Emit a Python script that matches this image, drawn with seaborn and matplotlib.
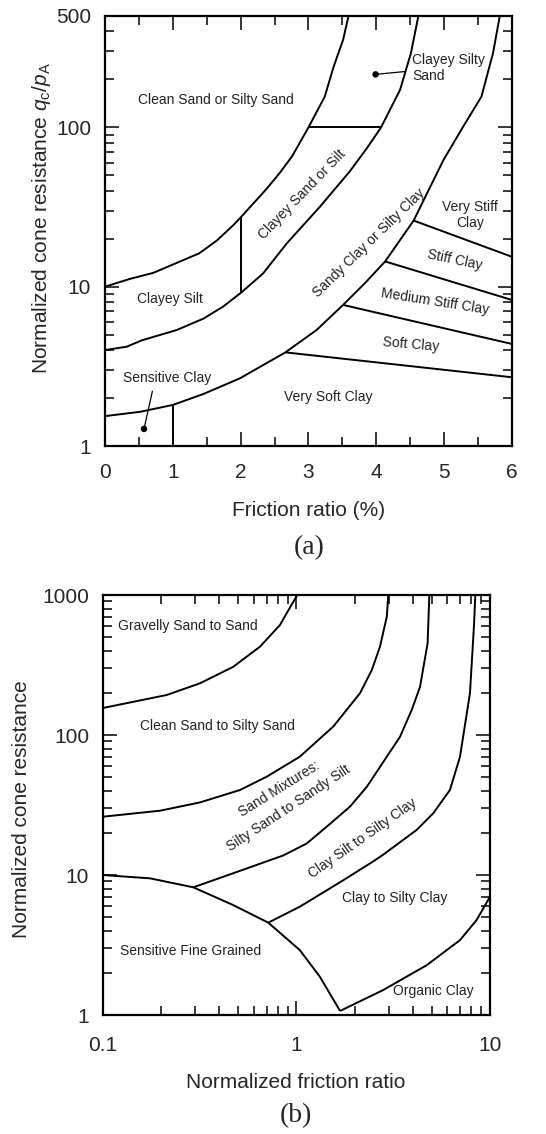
import numpy as np
import pandas as pd
import matplotlib
matplotlib.use("Agg")
import matplotlib.pyplot as plt
from matplotlib.ticker import MultipleLocator, LogLocator, NullFormatter, FixedLocator, FixedFormatter
import seaborn as sns

# ---------------- data: panel (a) ----------------
a_c1_x = [0, 0.37, 0.71, 1.39, 1.65, 1.89, 2.01, 2.19, 2.38, 2.58, 2.76, 3.0, 3.24, 3.37, 3.51, 3.59]
a_c1_y = [10, 11.2, 12.2, 16.2, 19.5, 24.3, 27.5, 33.4, 41, 52, 66, 100, 156, 240, 354, 500]
a_c2_x = [0, 0.32, 0.54, 1.06, 1.45, 1.74, 2.01, 2.33, 2.68, 3.17, 3.61, 3.86, 4.07, 4.35, 4.51, 4.62]
a_c2_y = [4.0, 4.2, 4.6, 5.35, 6.3, 7.49, 9.2, 12.1, 18.7, 31.8, 53, 73.9, 100, 172, 292, 500]
a_c3_x = [0, 0.52, 1.0, 1.45, 1.99, 2.66, 3.12, 3.51, 3.83, 4.13, 4.55, 4.99, 5.28, 5.55, 5.72, 5.82]
a_c3_y = [1.54, 1.64, 1.81, 2.12, 2.66, 3.87, 5.35, 7.68, 10.5, 14.4, 26, 62.4, 101, 156, 292, 500]
a_verystiff_x, a_verystiff_y = [4.55, 6.0], [26, 15.4]
a_stiff_x, a_stiff_y = [4.13, 6.0], [14.4, 8.25]
a_medium_x, a_medium_y = [3.51, 6.0], [7.68, 4.37]
a_soft_x, a_soft_y = [2.66, 6.0], [3.87, 2.70]
a_h100_x, a_h100_y = [3.0, 4.07], [100, 100]
a_v2_x, a_v2_y = [2.0, 2.0], [9.2, 27.5]
a_v1_x, a_v1_y = [1.0, 1.0], [1.0, 1.81]
a_lead1_x, a_lead1_y = [3.99, 4.42], [215, 224]
a_lead2_x, a_lead2_y = [0.575, 0.70], [1.28, 2.22]

a_labels = ["Clean Sand or Silty Sand", "Clayey Silty\nSand", "Clayey Sand or Silt",
            "Sandy Clay or Silty Clay", "Very Stiff\nClay", "Stiff Clay",
            "Medium Stiff Clay", "Soft Clay", "Very Soft Clay", "Clayey Silt", "Sensitive Clay"]
a_lab_x = [1.64, 4.53, 2.91, 3.89, 5.38, 5.16, 4.87, 4.51, 3.29, 0.96, 0.91]
a_lab_y = [148.6, 235, 38.1, 18.9, 28.2, 14.7, 8.05, 4.31, 2.04, 8.37, 2.66]
a_lab_rot = [0, 0, 46, 44, 0, -12, -9, -5, 0, 0, 0]
a_lab_ha = ["center", "left", "center", "center", "center", "center", "center",
            "center", "center", "center", "center"]

a_xticks = [0, 1, 2, 3, 4, 5, 6]
a_yticks = [1, 10, 100, 500]
a_yticklabels = ["1", "10", "100", "500"]

# ---------------- data: panel (b) ----------------
b_A_x = [0.1, 0.213, 0.317, 0.471, 0.647, 0.822, 0.889, 1.01]
b_A_y = [156, 193, 234, 307, 427, 611, 740, 1000]
b_B_x = [0.1, 0.197, 0.317, 0.511, 0.702, 1.04, 1.55, 2.13, 2.45, 2.70, 2.93, 2.98]
b_B_y = [26.1, 28.8, 33, 40.5, 50.4, 70, 115, 199, 291, 427, 700, 1000]
b_C_x = [0.293, 0.471, 0.855, 1.13, 1.43, 1.89, 2.31, 3.43, 3.94, 4.35, 4.76, 4.86]
b_C_y = [8.17, 10.3, 13.8, 16.8, 22.1, 30.8, 42.7, 97.3, 151, 221, 452, 1000]
b_D_x = [0.715, 1.04, 1.75, 2.49, 2.81, 4.18, 5.09, 6.21, 7.0, 7.88, 8.26, 8.4]
b_D_y = [4.57, 5.94, 9.2, 12.5, 14.0, 21, 27.6, 40.5, 70, 199, 594, 1000]
b_E_x = [0.1, 0.175, 0.293, 0.471, 0.715, 1.04, 1.32, 1.68]
b_E_y = [10, 9.47, 8.17, 6.1, 4.57, 2.91, 1.88, 1.07]
b_F_x = [1.68, 2.81, 4.71, 7.0, 8.53, 10]
b_F_y = [1.07, 1.51, 2.27, 3.43, 4.77, 7.0]

b_labels = ["Gravelly Sand to Sand", "Clean Sand to Silty Sand", "Sand Mixtures:",
            "Silty Sand to Sandy Silt", "Clay Silt to Silty Clay", "Clay to Silty Clay",
            "Sensitive Fine Grained", "Organic Clay"]
b_lab_x = [0.12, 0.39, 0.818, 0.915, 2.21, 3.23, 0.282, 5.09]
b_lab_y = [604, 116, 40.9, 29.9, 18.3, 6.82, 2.88, 1.49]
b_lab_rot = [0, 0, 32, 33.5, 35, 0, 0, 0]
b_lab_ha = ["left", "center", "center", "center", "center", "center", "center", "center"]

b_xticks = [0.1, 1, 10]
b_xticklabels = ["0.1", "1", "10"]
b_yticks = [1, 10, 100, 1000]
b_yticklabels = ["1", "10", "100", "1000"]

# ---------------- style ----------------
sns.set_style("ticks")
plt.rcParams['font.family'] = ['Liberation Sans', 'DejaVu Sans']
plt.rcParams['mathtext.fontset'] = 'custom'
plt.rcParams['mathtext.rm'] = 'Liberation Sans'
plt.rcParams['mathtext.it'] = 'Liberation Sans:italic'

LW = 1.4
fig = plt.figure(figsize=(5.46, 11.34), dpi=100)
ax1 = fig.add_axes([0.1923, 0.6067, 0.7454, 0.3792])
ax2 = fig.add_axes([0.1886, 0.1049, 0.7088, 0.3704])


def seg(ax, xs, ys, lw=LW):
    df = pd.DataFrame({"x": xs, "y": ys})
    sns.lineplot(data=df, x="x", y="y", ax=ax, color="black", lw=lw,
                 sort=False, estimator=None, solid_joinstyle="round",
                 solid_capstyle="butt")


def style_axes(ax, pad_x, pad_y):
    for s in ax.spines.values():
        s.set_linewidth(1.6)
        s.set_color("black")
    ax.tick_params(which="both", direction="in", top=True, right=True,
                   width=1.1, color="black", labelsize=15)
    ax.tick_params(which="major", length=10)
    ax.tick_params(which="minor", length=6.5)
    ax.tick_params(axis="x", which="both", pad=pad_x)
    ax.tick_params(axis="y", which="both", pad=pad_y)
    ax.set_xlabel("")
    ax.set_ylabel("")


# ---------------- panel (a) ----------------
ax1.set_yscale("log")
for xs, ys in [(a_c1_x, a_c1_y), (a_c2_x, a_c2_y), (a_c3_x, a_c3_y),
               (a_verystiff_x, a_verystiff_y), (a_stiff_x, a_stiff_y),
               (a_medium_x, a_medium_y), (a_soft_x, a_soft_y),
               (a_h100_x, a_h100_y), (a_v2_x, a_v2_y), (a_v1_x, a_v1_y)]:
    seg(ax1, xs, ys)
for xs, ys in [(a_lead1_x, a_lead1_y), (a_lead2_x, a_lead2_y)]:
    seg(ax1, xs, ys, lw=0.9)
sns.scatterplot(x=[a_lead1_x[0], a_lead2_x[0]], y=[a_lead1_y[0], a_lead2_y[0]],
                ax=ax1, color="black", s=22, edgecolor="none", zorder=5)

ax1.set_xlim(0, 6)
ax1.set_ylim(1, 500)
ax1.xaxis.set_major_locator(FixedLocator(a_xticks))
ax1.xaxis.set_minor_locator(MultipleLocator(0.5))
ax1.yaxis.set_major_locator(FixedLocator(a_yticks))
ax1.yaxis.set_major_formatter(FixedFormatter(a_yticklabels))
ax1.yaxis.set_minor_locator(LogLocator(base=10, subs=np.arange(2, 10)))
ax1.yaxis.set_minor_formatter(NullFormatter())
style_axes(ax1, pad_x=12, pad_y=10)

for t, x, y, r, ha in zip(a_labels, a_lab_x, a_lab_y, a_lab_rot, a_lab_ha):
    ax1.text(x, y, t, rotation=r, ha=ha, va="center", fontsize=10,
             multialignment=ha if ha != "center" else "center",
             rotation_mode="anchor", color="#222222")

# ---------------- panel (b) ----------------
ax2.set_xscale("log")
ax2.set_yscale("log")
for xs, ys in [(b_A_x, b_A_y), (b_B_x, b_B_y), (b_C_x, b_C_y),
               (b_D_x, b_D_y), (b_E_x, b_E_y), (b_F_x, b_F_y)]:
    seg(ax2, xs, ys)
ax2.set_xlim(0.1, 10)
ax2.set_ylim(1, 1000)
ax2.xaxis.set_major_locator(FixedLocator(b_xticks))
ax2.xaxis.set_major_formatter(FixedFormatter(b_xticklabels))
ax2.xaxis.set_minor_locator(LogLocator(base=10, subs=np.arange(2, 10)))
ax2.xaxis.set_minor_formatter(NullFormatter())
ax2.yaxis.set_major_locator(FixedLocator(b_yticks))
ax2.yaxis.set_major_formatter(FixedFormatter(b_yticklabels))
ax2.yaxis.set_minor_locator(LogLocator(base=10, subs=np.arange(2, 10)))
ax2.yaxis.set_minor_formatter(NullFormatter())
style_axes(ax2, pad_x=15, pad_y=10)

for t, x, y, r, ha in zip(b_labels, b_lab_x, b_lab_y, b_lab_rot, b_lab_ha):
    ax2.text(x, y, t, rotation=r, ha=ha, va="center", fontsize=10,
             rotation_mode="anchor", color="#222222")

# ---------------- axis titles & captions ----------------
W, H = 546.0, 1134.0


def ftext(px, py, s, **kw):
    fig.text(px / W, 1 - py / H, s, ha="center", va="center", **kw)


ftext(42, 218, r"Normalized cone resistance $q_\mathrm{c}/p_\mathrm{A}$", rotation=90, fontsize=15)
ftext(309, 511, "Friction ratio (%)", fontsize=15)
ftext(309, 548, "(a)", fontsize=20, family=["Liberation Serif", "DejaVu Serif"])
ftext(22, 809, "Normalized cone resistance", rotation=90, fontsize=15)
ftext(296, 1082, "Normalized friction ratio", fontsize=15)
ftext(296, 1116, "(b)", fontsize=20, family=["Liberation Serif", "DejaVu Serif"])

fig.savefig("out.png", dpi=100)
